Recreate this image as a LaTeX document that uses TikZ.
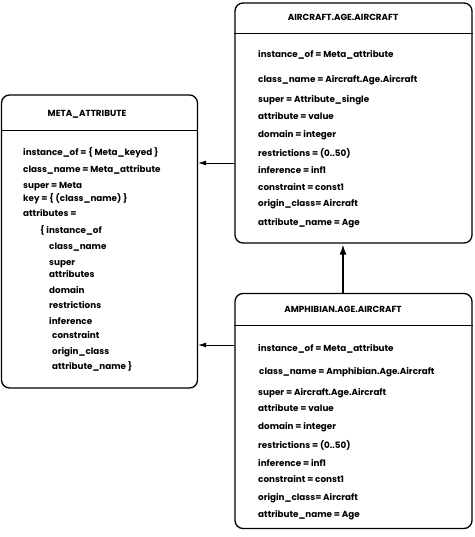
\documentclass[tikz,border=0pt]{standalone}
\usepackage{fontspec}
\setmainfont{Poppins}
\usetikzlibrary{arrows.meta}
\tikzset{
  box/.style={draw=black, line width=1.3pt, rounded corners=8pt, rectangle, inner sep=0pt},
  sep/.style={draw=black, line width=0.9pt},
  txt/.style={anchor=base west, inner sep=0pt, font=\bfseries\fontsize{8.8}{10}\selectfont},
  ttl/.style={anchor=base, inner sep=0pt, font=\bfseries\fontsize{8.8}{10}\selectfont},
  arr/.style={line width=0.8pt, -{Latex[length=8pt,width=5pt]}},
  thick arr/.style={line width=2.4pt, -{Latex[length=11pt,width=7pt]}},
}
\begin{document}
\begin{tikzpicture}[x=1pt,y=-1pt]
\useasboundingbox (0,0) rectangle (474,537);
% boxes
\node[box, minimum width=237pt, minimum height=240pt] (air) at (353.5,123) {};
\node[box, minimum width=196pt, minimum height=293pt] (meta) at (99.5,241.5) {};
\node[box, minimum width=237pt, minimum height=235pt] (amp) at (353.5,411) {};
% separators
\draw[sep] (air.west |- 0,33) -- (air.east |- 0,33);
\draw[sep] (meta.west |- 0,130) -- (meta.east |- 0,130);
\draw[sep] (amp.west |- 0,325) -- (amp.east |- 0,325);
% titles
\node[ttl] (airt) at (343,21) {AIRCRAFT.AGE.AIRCRAFT};
\node[ttl] (metat) at (87,117) {META\_ATTRIBUTE};
\node[ttl] (ampt) at (343,312) {AMPHIBIAN.AGE.AIRCRAFT};
% aircraft texts
\node[txt] (a1) at (258,58) {instance\_of = Meta\_attribute};
\node[txt] (a2) at (258,83) {class\_name = Aircraft.Age.Aircraft};
\node[txt] (a3) at (258,103) {super = Attribute\_single};
\node[txt] (a4) at (258,120) {attribute = value};
\node[txt] (a5) at (258,138) {domain = integer};
\node[txt] (a6) at (258,157) {restrictions = (0..50)};
\node[txt] (a7) at (258,174) {inference = inf1};
\node[txt] (a8) at (258,191) {constraint = const1};
\node[txt] (a9) at (258,207) {origin\_class= Aircraft};
\node[txt] (a10) at (258,225) {attribute\_name = Age};
% meta texts
\node[txt] (m1) at (23,156) {instance\_of = \{ Meta\_keyed \}};
\node[txt] (m2) at (23,173) {class\_name = Meta\_attribute};
\node[txt] (m3) at (23,189) {super = Meta};
\node[txt] (m4) at (23,201) {key = \{ (class\_name) \}};
\node[txt] (m5) at (23,216) {attributes =};
\node[txt] (m6) at (40,233) {\{ instance\_of};
\node[txt] (m7) at (49,249) {class\_name};
\node[txt] (m8) at (49,265) {super};
\node[txt] (m9) at (49,277) {attributes};
\node[txt] (m10) at (49,293) {domain};
\node[txt] (m11) at (49,308) {restrictions};
\node[txt] (m12) at (49,324) {inference};
\node[txt] (m13) at (52,338) {constraint};
\node[txt] (m14) at (52,354) {origin\_class};
\node[txt] (m15) at (52,369) {attribute\_name \}};
% amphibian texts
\node[txt] (b1) at (258,351) {instance\_of = Meta\_attribute};
\node[txt] (b2) at (259,374) {class\_name = Amphibian.Age.Aircraft};
\node[txt] (b3) at (258,395) {super = Aircraft.Age.Aircraft};
\node[txt] (b4) at (258,411) {attribute = value};
\node[txt] (b5) at (258,429) {domain = integer};
\node[txt] (b6) at (258,448) {restrictions = (0..50)};
\node[txt] (b7) at (258,466) {inference = inf1};
\node[txt] (b8) at (258,482) {constraint = const1};
\node[txt] (b9) at (258,500) {origin\_class= Aircraft};
\node[txt] (b10) at (258,517) {attribute\_name = Age};
% connectors
\coordinate (c1) at (0,163);
\coordinate (c2) at (0,345);
\coordinate (c3) at (343,0);
\draw[arr] (air.west |- c1) -- (meta.east |- c1);
\draw[arr] (amp.west |- c2) -- (meta.east |- c2);
\draw[thick arr] (amp.north -| c3) -- (air.south -| c3);
\end{tikzpicture}
\end{document}
